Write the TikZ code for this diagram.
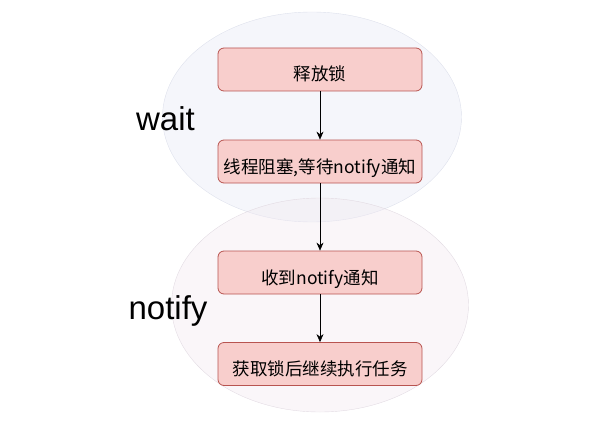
\documentclass[tikz,border=0pt]{standalone}
\usepackage{fontspec}
\setmainfont{Liberation Sans}
\newfontfamily\cjk{Noto Sans CJK SC}
\usetikzlibrary{shapes.geometric,arrows.meta,positioning}
\definecolor{rojoclaro}{HTML}{F8CECC}
\definecolor{rojo}{HTML}{B85450}
\definecolor{azulzona}{HTML}{E6E8F4}
\definecolor{azulborde}{HTML}{D6DAE8}
\definecolor{rosazona}{HTML}{F1E8F0}
\definecolor{rosaborde}{HTML}{DDD4DD}
\tikzset{
  caja/.style={draw=rojo,line width=0.8pt,fill=rojoclaro,rounded corners=6pt,minimum width=204pt,minimum height=43pt,inner sep=2pt,text height=23pt,text depth=0pt,font=\fontsize{17.5}{20}\selectfont\cjk},
  zona/.style={ellipse,inner sep=0pt,fill opacity=0.38,draw opacity=0.8},
  zonawait/.style={zona,draw=azulborde,fill=azulzona},
  zonanotify/.style={zona,draw=rosaborde,fill=rosazona},
  titulo/.style={font=\fontsize{33}{38}\selectfont,inner sep=0pt},
  flecha/.style={-{Stealth[length=8pt,width=7pt]},semithick,black},
}
\begin{document}
\begin{tikzpicture}[x=1pt,y=-1pt]
  \useasboundingbox (0,0) rectangle (612,425);
  % zonas
  \node[zonawait,minimum width=299pt,minimum height=210pt] (zwait) at (312,117) {};
  \node[zonanotify,minimum width=297pt,minimum height=214pt] (znotify) at (320,305) {};
  \node[titulo] (lwait) at (165.5,119) {wait};
  \node[titulo] (lnotify) at (168,311) {notify};
  % pasos
  \node[caja] (libera) at (320,69.5) {释放锁};
  \node[caja] (bloqueo) at (320,161.5) {线程阻塞,等待notify通知};
  \node[caja] (recibe) at (320,272.5) {收到notify通知};
  \node[caja] (continua) at (320,364) {获取锁后继续执行任务};
  \draw[flecha] (libera) -- (bloqueo);
  \draw[flecha] (bloqueo) -- (recibe);
  \draw[flecha] (recibe) -- (continua);
\end{tikzpicture}
\end{document}
